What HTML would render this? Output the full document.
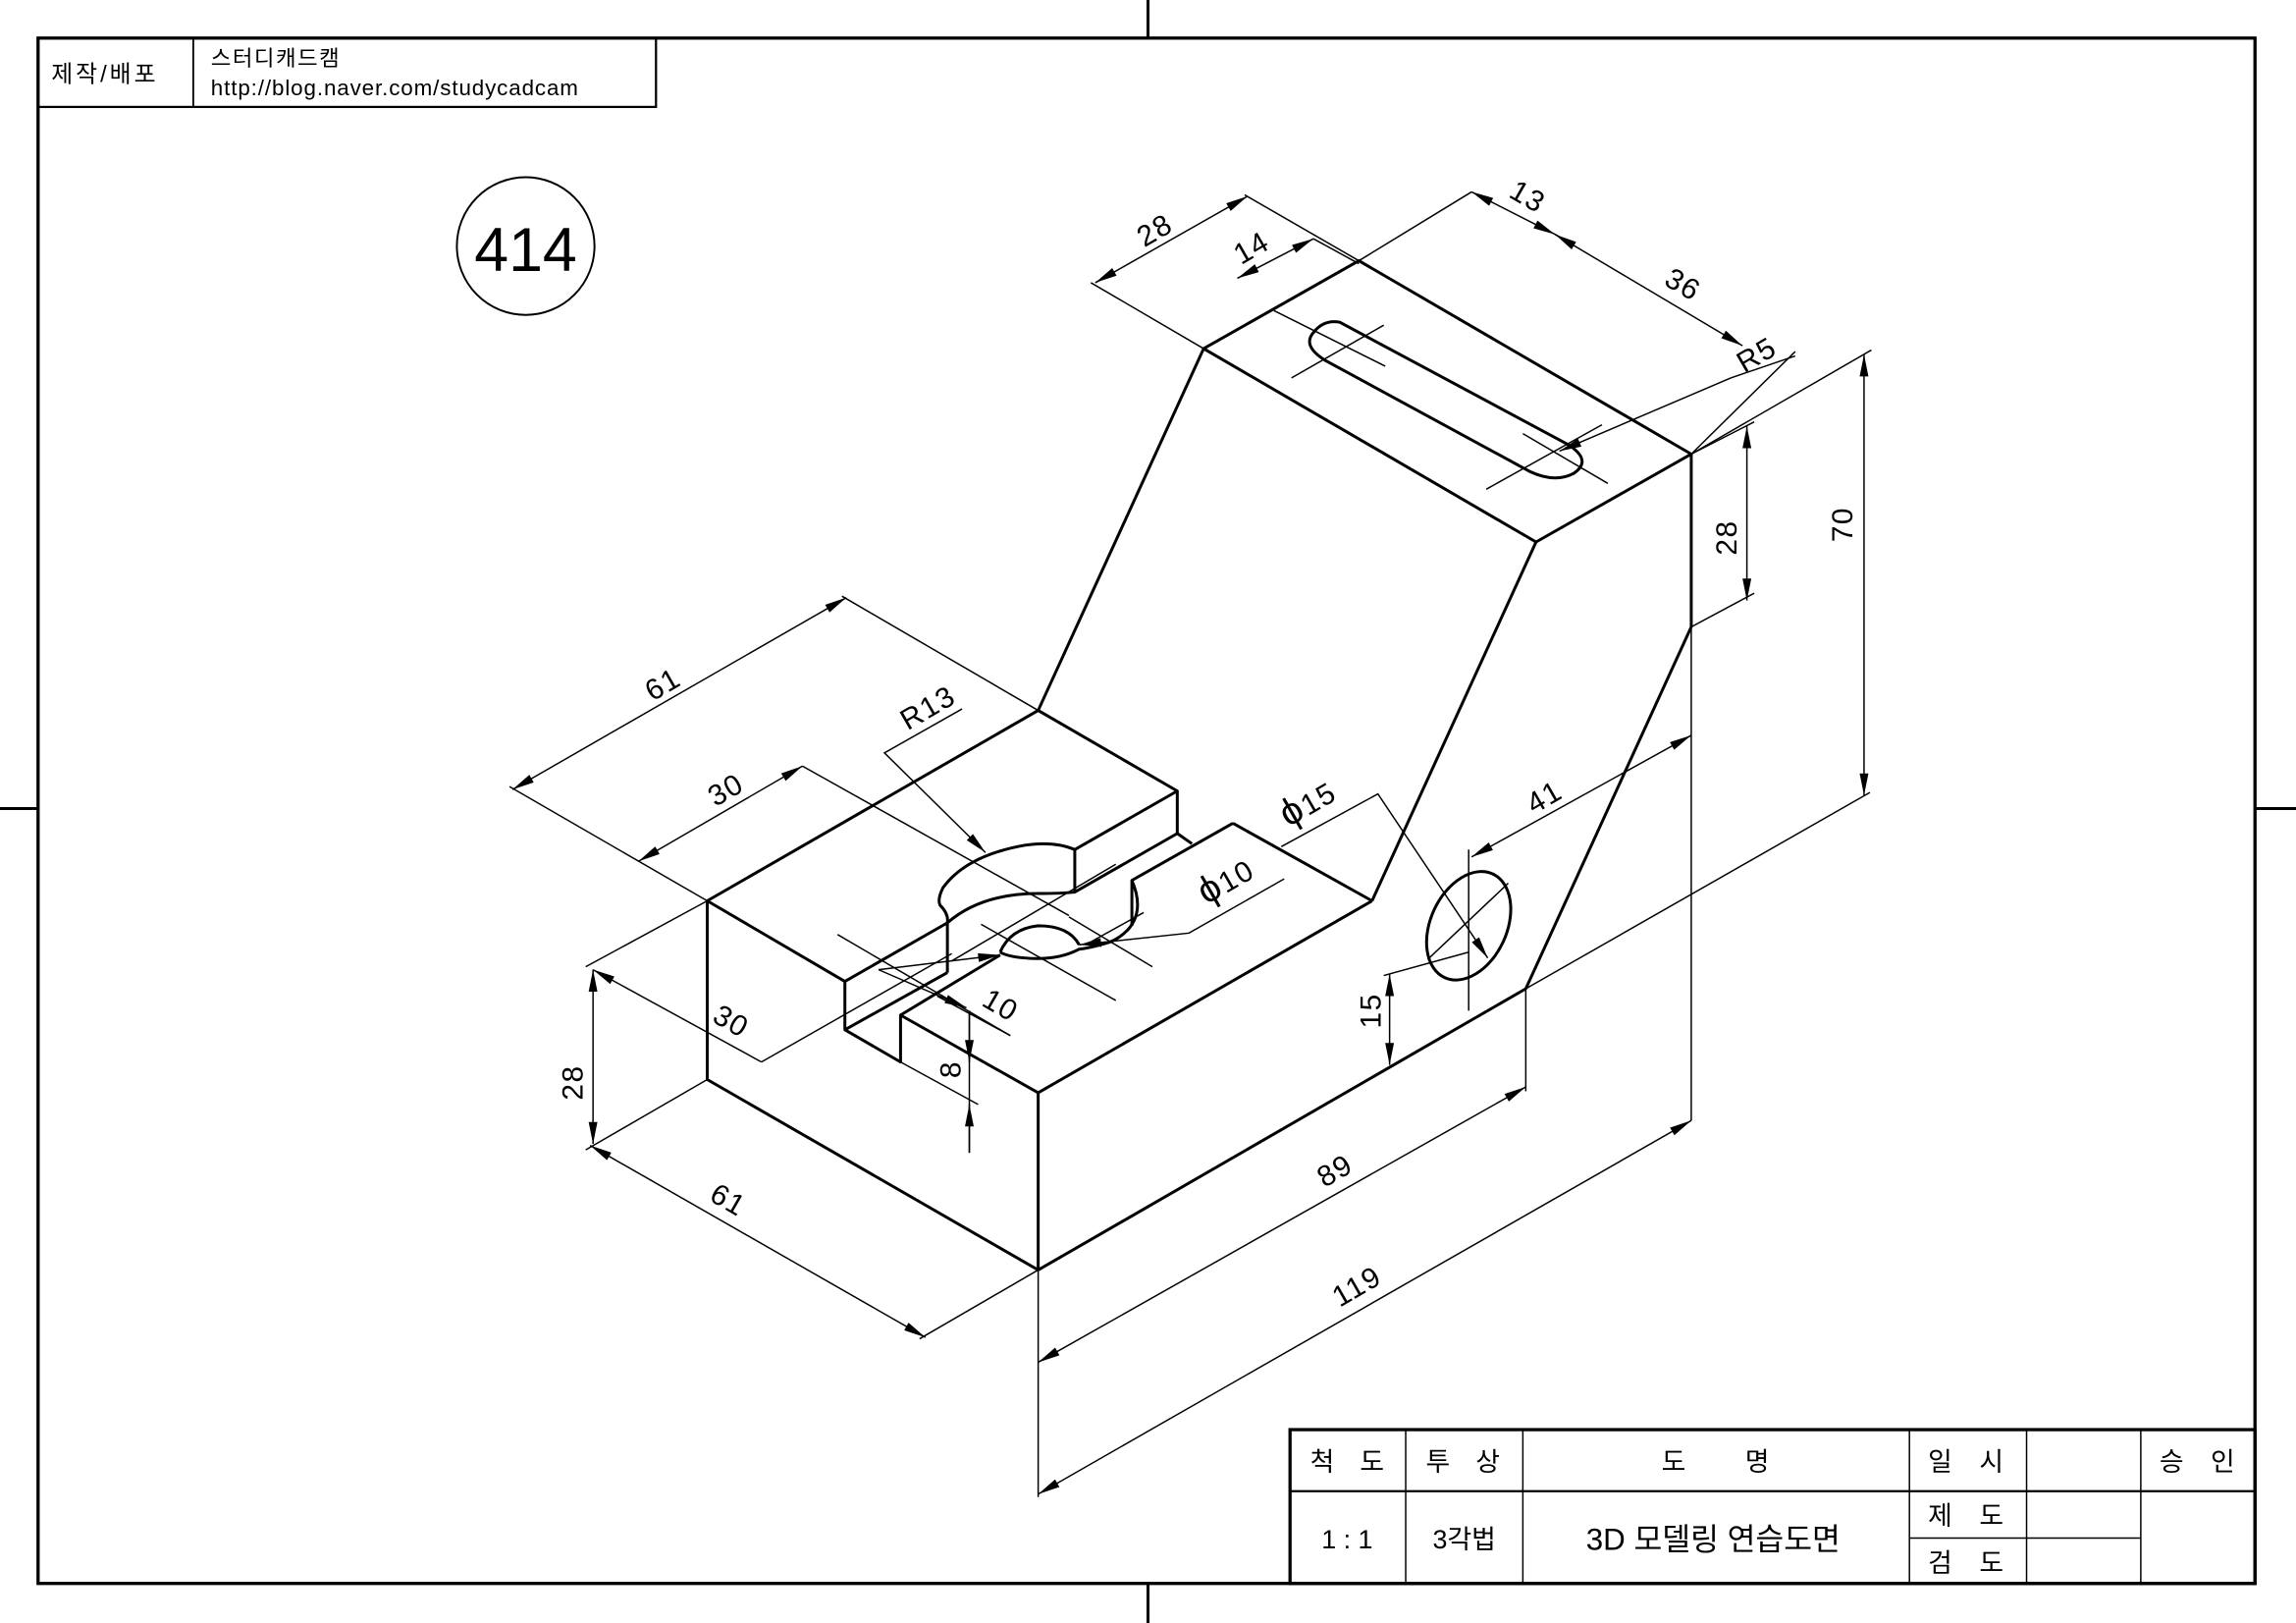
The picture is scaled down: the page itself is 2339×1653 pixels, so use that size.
<!DOCTYPE html>
<html><head><meta charset="utf-8"><style>
html,body{margin:0;padding:0;background:#fff;}
svg{display:block;}
text{font-family:"Liberation Sans","Noto Sans CJK KR",sans-serif;fill:#000;}
</style></head><body>
<svg width="2339" height="1653" viewBox="0 0 1568 1108" preserveAspectRatio="none" xmlns="http://www.w3.org/2000/svg">
<defs>
<marker id="a" viewBox="0 0 10 4" refX="10" refY="2" markerWidth="16" markerHeight="6" markerUnits="userSpaceOnUse" orient="auto-start-reverse"><path d="M0,0 L10,2 L0,4 Z" fill="#000"/></marker>
</defs>
<rect x="0" y="0" width="1568" height="1108" fill="#fff"/>
<rect x="26" y="26" width="1514" height="1055" fill="none" stroke="#000" stroke-width="2.2"/>
<g stroke="#000" stroke-width="2">
<line x1="784" y1="0" x2="784" y2="26"/><line x1="784" y1="1081" x2="784" y2="1108"/>
<line x1="0" y1="552" x2="26" y2="552"/><line x1="1540" y1="552" x2="1568" y2="552"/>
</g>
<rect x="26" y="26" width="422" height="47" fill="none" stroke="#000" stroke-width="1.5"/>
<line x1="132" y1="26" x2="132" y2="73" stroke="#000" stroke-width="1.2"/>
<text x="35" y="56" font-size="16" letter-spacing="2">제작/배포</text>
<text x="144" y="45" font-size="15" letter-spacing="1">스터디캐드캠</text>
<text x="144" y="65" font-size="15" letter-spacing="0.6">http://blog.naver.com/studycadcam</text>
<circle cx="359" cy="168" r="47" fill="none" stroke="#000" stroke-width="1.3"/>
<text x="359" y="185" font-size="42" text-anchor="middle">414</text>

<g fill="none" stroke="#000" stroke-width="2" stroke-linejoin="round">
<path d="M483,615 L709,485 L822,238 L928,178 L1155,310 L1049,370 L822,238"/>
<path d="M1049,370 L937,615"/>
<path d="M1155,310 L1155,428 L1042,675 L709,867 L483,737 L483,615"/>
<path d="M709,746 L709,867"/>
<path d="M709,746 L937,615"/>
<path d="M709,485 L804,540"/>
<path d="M842,562 L937,615"/>
<path d="M483,615 L577,670 L577,703 L615,725 L615,693 L709,746"/>
<path d="M577,670 L647,630 L647,664"/>
<path d="M577,703 L647,664"/>
<path d="M615,693 L683,652"/>
<path d="M734,580 L804,540 L804,569 L734,609 Z"/>
<path d="M804,569 L814,576"/>
<path d="M842,562 L773,601 L773,632"/>
<path d="M734,580 Q720,574 700,577 Q660,584 644,606 Q640,614 642,618 Q648,624 647,630"/>
<path d="M647,630 Q670,610 709,610 Q725,610 734,609"/>
<path d="M773,601 Q782,622 770,635 Q763,642 755,644 Q745,647 737,648 Q722,656 700,654 Q688,653 683,650"/>
<path d="M683,650 Q690,634 709,632 Q730,632 737,645"/>
<path d="M915,220 L1070,303 Q1088,314 1075,323 Q1062,330 1045,322 L905,246 Q889,236 897,227 Q904,218 915,220 Z"/>
<ellipse cx="1003" cy="632" rx="26" ry="39" transform="rotate(25 1003 632)"/>
</g>

<g fill="none" stroke="#000" stroke-width="1">
<line x1="882" y1="258" x2="945" y2="222"/>
<line x1="870" y1="212" x2="946" y2="250"/>
<line x1="1015" y1="334" x2="1094" y2="290"/>
<line x1="1040" y1="296" x2="1098" y2="330"/>
<line x1="975" y1="655" x2="1030" y2="603"/>
<line x1="1003" y1="580" x2="1003" y2="690"/>
<line x1="548" y1="523" x2="730" y2="625"/>
<line x1="650" y1="656" x2="762" y2="590"/>
<line x1="670" y1="631" x2="762" y2="683"/>
<line x1="730" y1="626" x2="787" y2="660"/>
<line x1="745" y1="643" x2="781" y2="623"/>
<line x1="520" y1="725" x2="650" y2="651"/>
<line x1="572" y1="638" x2="690" y2="707"/>
<line x1="822" y1="238" x2="745" y2="193"/>
<line x1="928" y1="178" x2="850" y2="133"/>
<line x1="748" y1="193" x2="852" y2="134" marker-start="url(#a)" marker-end="url(#a)"/>
<line x1="845" y1="190" x2="897" y2="163" marker-start="url(#a)" marker-end="url(#a)"/>
<line x1="897" y1="163" x2="928" y2="180"/>
<line x1="928" y1="178" x2="1005" y2="131"/>
<line x1="1005" y1="131" x2="1062" y2="160" marker-start="url(#a)" marker-end="url(#a)"/>
<line x1="1062" y1="160" x2="1190" y2="236" marker-end="url(#a)"/>
<line x1="1062" y1="160" x2="1072" y2="166" marker-end="url(#a)" transform="rotate(180 1067 163)"/>
<line x1="1155" y1="310" x2="1226" y2="240"/>
<polyline points="1226,243 1182,258 1065,308" marker-end="url(#a)"/>
<line x1="1155" y1="310" x2="1278" y2="239"/>
<line x1="1042" y1="675" x2="1277" y2="541"/>
<line x1="1273" y1="242" x2="1273" y2="543" marker-start="url(#a)" marker-end="url(#a)"/>
<line x1="1155" y1="310" x2="1198" y2="288"/>
<line x1="1155" y1="428" x2="1198" y2="405"/>
<line x1="1193" y1="291" x2="1193" y2="410" marker-start="url(#a)" marker-end="url(#a)"/>
<line x1="1155" y1="428" x2="1155" y2="765"/>
<line x1="1005" y1="585" x2="1155" y2="502" marker-start="url(#a)" marker-end="url(#a)"/>
<line x1="1003" y1="650" x2="945" y2="666"/>
<line x1="949" y1="665" x2="949" y2="727" marker-start="url(#a)" marker-end="url(#a)"/>
<polyline points="875,578 941,542 1016,654" marker-end="url(#a)"/>
<polyline points="877,600 812,637 737,645" marker-end="url(#a)"/>
<line x1="600" y1="662" x2="683" y2="652" marker-end="url(#a)"/>
<polyline points="657,484 604,514 673,582" marker-end="url(#a)"/>
<line x1="483" y1="615" x2="348" y2="537"/>
<line x1="709" y1="485" x2="575" y2="407"/>
<line x1="350" y1="539" x2="578" y2="408" marker-start="url(#a)" marker-end="url(#a)"/>
<line x1="436" y1="588" x2="548" y2="523" marker-start="url(#a)" marker-end="url(#a)"/>
<line x1="483" y1="615" x2="400" y2="660"/>
<line x1="483" y1="737" x2="400" y2="785"/>
<line x1="405" y1="662" x2="520" y2="725" marker-start="url(#a)"/>
<line x1="405" y1="662" x2="405" y2="781" marker-start="url(#a)" marker-end="url(#a)"/>
<line x1="600" y1="662" x2="660" y2="688" marker-end="url(#a)"/>
<line x1="640" y1="680" x2="690" y2="707"/>
<line x1="615" y1="725" x2="668" y2="754"/>
<line x1="662" y1="690" x2="662" y2="787"/>
<line x1="662" y1="690" x2="662" y2="725" marker-end="url(#a)"/>
<line x1="662" y1="787" x2="662" y2="754" marker-end="url(#a)"/>
<line x1="709" y1="867" x2="628" y2="914"/>
<line x1="403" y1="782" x2="632" y2="913" marker-start="url(#a)" marker-end="url(#a)"/>
<line x1="709" y1="867" x2="709" y2="1022"/>
<line x1="1042" y1="675" x2="1042" y2="745"/>
<line x1="709" y1="930" x2="1042" y2="742" marker-start="url(#a)" marker-end="url(#a)"/>
<line x1="709" y1="1020" x2="1155" y2="765" marker-start="url(#a)" marker-end="url(#a)"/>
</g>

<g font-size="20" letter-spacing="1">
<text transform="translate(792,163) rotate(-30)" text-anchor="middle">28</text>
<text transform="translate(858,175) rotate(-30)" text-anchor="middle">14</text>
<text transform="translate(1040,140) rotate(30)" text-anchor="middle">13</text>
<text transform="translate(1146,200) rotate(30)" text-anchor="middle">36</text>
<text transform="translate(1203,248) rotate(-30)" text-anchor="middle">R5</text>
<text transform="translate(1265,358) rotate(-90)" text-anchor="middle">70</text>
<text transform="translate(1186,367) rotate(-90)" text-anchor="middle">28</text>
<text transform="translate(1058,550) rotate(-30)" text-anchor="middle">41</text>
<text transform="translate(943,690) rotate(-90)" text-anchor="middle">15</text>
<text transform="translate(897,555) rotate(-30)" text-anchor="middle"><tspan font-size="26">ϕ</tspan>15</text>
<text transform="translate(841,608) rotate(-30)" text-anchor="middle"><tspan font-size="26">ϕ</tspan>10</text>
<text transform="translate(637,489) rotate(-30)" text-anchor="middle">R13</text>
<text transform="translate(456,473) rotate(-30)" text-anchor="middle">61</text>
<text transform="translate(499,545) rotate(-30)" text-anchor="middle">30</text>
<text transform="translate(496,703) rotate(30)" text-anchor="middle">30</text>
<text transform="translate(398,739) rotate(-90)" text-anchor="middle">28</text>
<text transform="translate(680,692) rotate(30)" text-anchor="middle">10</text>
<text transform="translate(656,730) rotate(-90)" text-anchor="middle">8</text>
<text transform="translate(494,825) rotate(30)" text-anchor="middle">61</text>
<text transform="translate(915,805) rotate(-30)" text-anchor="middle">89</text>
<text transform="translate(930,884) rotate(-30)" text-anchor="middle">119</text>
</g>

<g fill="none" stroke="#000">
<rect x="881" y="976" width="659" height="105" stroke-width="2.2"/>
<line x1="881" y1="1018" x2="1540" y2="1018" stroke-width="1.5"/>
<line x1="960" y1="976" x2="960" y2="1081" stroke-width="1"/>
<line x1="1040" y1="976" x2="1040" y2="1081" stroke-width="1"/>
<line x1="1304" y1="976" x2="1304" y2="1081" stroke-width="1"/>
<line x1="1384" y1="976" x2="1384" y2="1081" stroke-width="1"/>
<line x1="1462" y1="976" x2="1462" y2="1081" stroke-width="1"/>
<line x1="1304" y1="1050" x2="1462" y2="1050" stroke-width="1"/>
</g>
<g font-size="18" text-anchor="middle">
<text x="903" y="1004">척</text><text x="937" y="1004">도</text>
<text x="982" y="1004">투</text><text x="1016" y="1004">상</text>
<text x="1143" y="1004">도</text><text x="1200" y="1004">명</text>
<text x="1325" y="1004">일</text><text x="1360" y="1004">시</text>
<text x="1483" y="1004">승</text><text x="1518" y="1004">인</text>
<text x="920" y="1057">1 : 1</text>
<text x="1000" y="1057">3각법</text>
<text x="1170" y="1058" font-size="21">3D 모델링 연습도면</text>
<text x="1325" y="1041">제</text><text x="1360" y="1041">도</text>
<text x="1325" y="1073">검</text><text x="1360" y="1073">도</text>
</g>
</svg>
</body></html>
